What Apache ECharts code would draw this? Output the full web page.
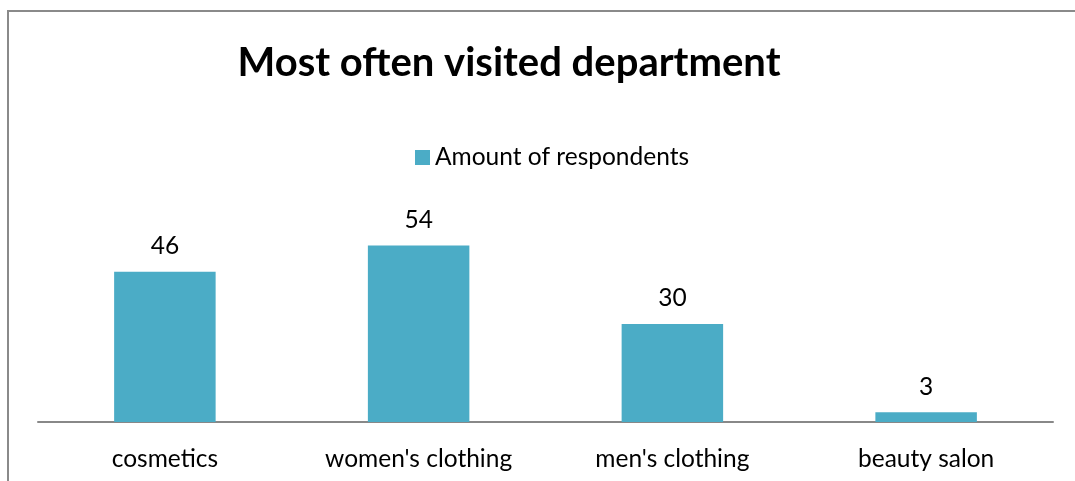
<!DOCTYPE html>
<html>
<head>
<meta charset="utf-8">
<style>
  html, body { margin: 0; padding: 0; background: #fff; }
  #chart { width: 1075px; height: 481px; }
</style>
<script src="https://cdn.jsdelivr.net/npm/echarts@6/dist/echarts.min.js"></script>
</head>
<body>
<div id="chart"></div>
<script>
// Survey results: which department respondents visit most often
const categories = ["cosmetics", "women's clothing", "men's clothing", "beauty salon"];
const respondents = [46, 54, 30, 3];
const seriesName = "Amount of respondents";
const chartTitle = "Most often visited department";

const FONT = "Lato, 'Open Sans', sans-serif";
const chart = echarts.init(document.getElementById('chart'));

chart.setOption({
  animation: false,
  backgroundColor: '#fff',
  title: {
    text: chartTitle,
    left: 504,
    textAlign: 'center',
    top: 38,
    textStyle: { fontFamily: FONT, fontWeight: 'bold', fontSize: 40, color: '#000' }
  },
  legend: {
    data: [seriesName],
    left: 410,
    top: 140,
    icon: 'rect',
    itemWidth: 15,
    itemHeight: 15,
    itemGap: 6,
    textStyle: { fontFamily: FONT, fontSize: 24.5, color: '#000' }
  },
  grid: { left: 38, right: 22, top: 226, bottom: 59, containLabel: false },
  xAxis: {
    type: 'category',
    data: categories,
    axisLine: { lineStyle: { color: '#888', width: 2 } },
    axisTick: { show: false },
    axisLabel: { fontFamily: FONT, fontSize: 24.5, color: '#000', margin: 25 }
  },
  yAxis: {
    type: 'value',
    min: 0,
    max: 60,
    show: false,
    splitLine: { show: false }
  },
  series: [{
    name: seriesName,
    type: 'bar',
    data: respondents,
    barWidth: '40%',
    itemStyle: { color: '#4BACC6' },
    label: {
      show: true,
      position: 'top',
      distance: 13,
      fontFamily: FONT,
      fontSize: 24.5,
      color: '#000'
    }
  }],
  graphic: [{
    type: 'rect',
    shape: { x: 8, y: 11, width: 1200, height: 600 },
    style: { fill: 'none', stroke: '#8a8a8a', lineWidth: 2 },
    silent: true
  }]
});
</script>
</body>
</html>
